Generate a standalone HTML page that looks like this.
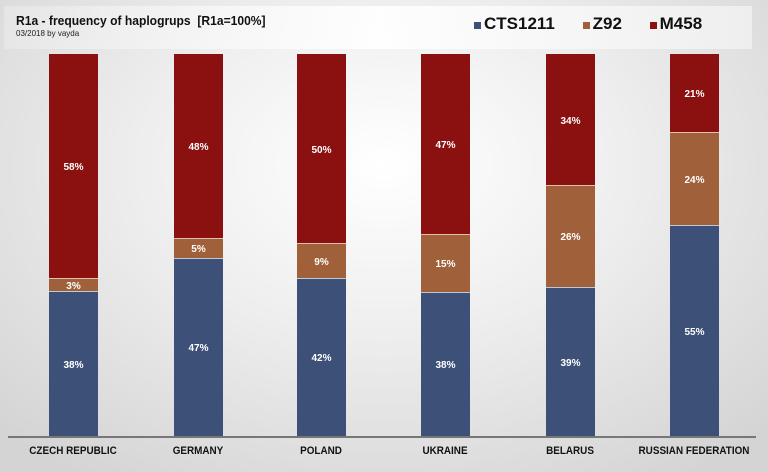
<!DOCTYPE html><html><head><style>
body{margin:0;width:768px;height:472px;overflow:hidden;font-family:"Liberation Sans",sans-serif;}
.bg{position:absolute;left:0;top:0;width:768px;height:472px;background:radial-gradient(ellipse 70% 80% at 50% 35%,#ffffff 0%,#eeeeee 45%,#d4d4d4 100%);}
.hdr{position:absolute;left:4px;top:6px;width:748px;height:43px;background:linear-gradient(90deg,rgba(235,235,235,.6),rgba(255,255,255,.9) 50%,rgba(240,240,240,.9));}
.bar{position:absolute;width:49px;}
.lbl{position:absolute;width:49px;text-align:center;color:#fff;font-weight:bold;font-size:10px;}
.x{position:absolute;top:445px;font-weight:bold;font-size:11px;color:#111;text-align:center;width:130px;transform:scaleX(.9);}
</style></head><body><div class="bg"></div><div class="hdr"></div>
<div style="position:absolute;left:16px;top:13px;font-weight:bold;font-size:13px;color:#111;transform:scaleX(.93);transform-origin:0 0;white-space:nowrap">R1a - frequency of haplogrups &nbsp;[R1a=100%]</div>
<div style="position:absolute;left:16px;top:29px;font-size:8px;color:#222;">03/2018 by vayda</div>
<div style="position:absolute;left:474px;top:14px;font-weight:bold;font-size:17px;color:#111;white-space:nowrap">
<span style="display:inline-block;width:7px;height:7px;background:#3c5078;margin-right:3px"></span>CTS1211
<span style="display:inline-block;width:7px;height:7px;background:#a0603a;margin:0 3px 0 23px"></span>Z92
<span style="display:inline-block;width:7px;height:7px;background:#8b1010;margin:0 3px 0 23px"></span>M458</div>
<div style="position:absolute;left:8px;top:436px;width:748px;height:2px;background:#777"></div>
<div id="c"></div>
<script>
var d=[[49,278,291,"58%","3%","38%","CZECH REPUBLIC"],[174,238,258,"48%","5%","47%","GERMANY"],[297,243,278,"50%","9%","42%","POLAND"],[421,234,292,"47%","15%","38%","UKRAINE"],[546,185,287,"34%","26%","39%","BELARUS"],[670,132,225,"21%","24%","55%","RUSSIAN FEDERATION"]];
var h="";d.forEach(function(r){var x=r[0];
h+='<div class="bar" style="left:'+x+'px;top:54px;height:'+(r[1]-54)+'px;background:#8b1010"></div>';
h+='<div class="bar" style="left:'+x+'px;top:'+r[1]+'px;height:'+(r[2]-r[1])+'px;background:#a0603a;border-top:1px solid #e0c0b0;box-sizing:border-box"></div>';
h+='<div class="bar" style="left:'+x+'px;top:'+r[2]+'px;height:'+(436-r[2])+'px;background:#3c5078;border-top:1px solid #c0c8d8;box-sizing:border-box"></div>';
var m=[(54+r[1])/2,(r[1]+r[2])/2,(r[2]+436)/2];
[3,4,5].forEach(function(k,i){h+='<div class="lbl" style="left:'+x+'px;top:'+(m[i]-4)+'px">'+r[k]+'</div>';});
h+='<div class="x" style="left:'+(x+24-65)+'px">'+r[6]+'</div>';});
document.getElementById("c").innerHTML=h;
</script></body></html>
